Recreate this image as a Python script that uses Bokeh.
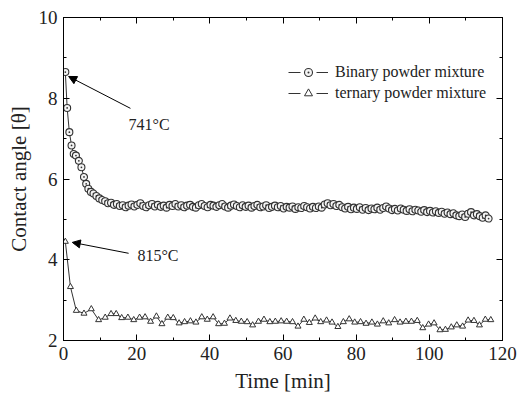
from bokeh.plotting import figure
from bokeh.models import (Range1d, SingleIntervalTicker, LinearAxis, Legend, LegendItem,
                          Arrow, NormalHead, Label, ColumnDataSource)
from bokeh.embed import file_html
from bokeh.resources import INLINE

# ---- data ----
binary_time = [
    0.5, 1.0, 1.6, 2.2, 2.8, 3.4, 4.2, 4.9, 5.6, 6.2, 6.8, 7.5, 8.2, 9.0, 9.8,
    10.6, 11.4, 12.2, 13.0, 13.8,
    14.6, 15.4, 16.2, 17.0, 17.8,
    18.6, 19.4, 20.2, 21.0, 21.8,
    22.6, 23.4, 24.2, 25.0, 25.8,
    26.6, 27.4, 28.2, 29.0, 29.8,
    30.6, 31.4, 32.2, 33.0, 33.8,
    34.6, 35.4, 36.2, 37.0, 37.8,
    38.6, 39.4, 40.2, 41.0, 41.8,
    42.6, 43.4, 44.2, 45.0, 45.8,
    46.6, 47.4, 48.2, 49.0, 49.8,
    50.6, 51.4, 52.2, 53.0, 53.8,
    54.6, 55.4, 56.2, 57.0, 57.8,
    58.6, 59.4, 60.2, 61.0, 61.8,
    62.6, 63.4, 64.2, 65.0, 65.8,
    66.6, 67.4, 68.2, 69.0, 69.8,
    70.6, 71.4, 72.2, 73.0, 73.8,
    74.6, 75.4, 76.2, 77.0, 77.8,
    78.6, 79.4, 80.2, 81.0, 81.8,
    82.6, 83.4, 84.2, 85.0, 85.8,
    86.6, 87.4, 88.2, 89.0, 89.8,
    90.6, 91.4, 92.2, 93.0, 93.8,
    94.6, 95.4, 96.2, 97.0, 97.8,
    98.6, 99.4, 100.2, 101.0, 101.8,
    102.6, 103.4, 104.2, 105.0, 105.8,
    106.6, 107.4, 108.2, 109.0, 109.8,
    110.6, 111.4, 112.2, 113.0, 113.8,
    114.6, 115.4, 116.2,
]
binary_angle = [
    8.65, 7.76, 7.16, 6.83, 6.62, 6.58, 6.45, 6.29, 6.05, 5.88, 5.76, 5.68, 5.64, 5.58, 5.52,
    5.48, 5.45, 5.40, 5.41, 5.36,
    5.38, 5.33, 5.35, 5.30, 5.34,
    5.37, 5.32, 5.36, 5.40, 5.33,
    5.30, 5.35, 5.38, 5.32, 5.36,
    5.31, 5.34, 5.29, 5.36, 5.33,
    5.38, 5.32, 5.35, 5.30, 5.34,
    5.36, 5.31, 5.29, 5.35, 5.38,
    5.33, 5.30, 5.36, 5.34, 5.31,
    5.35, 5.38, 5.32, 5.29, 5.34,
    5.37, 5.33, 5.30, 5.35, 5.31,
    5.34, 5.29, 5.33, 5.36, 5.30,
    5.32, 5.35, 5.28, 5.31, 5.34,
    5.30, 5.33, 5.27, 5.31, 5.29,
    5.32, 5.26, 5.30, 5.28, 5.33,
    5.30, 5.27, 5.31, 5.28, 5.32,
    5.29, 5.37, 5.40, 5.35, 5.38,
    5.33, 5.36, 5.30, 5.27, 5.31,
    5.25, 5.29, 5.26, 5.30, 5.24,
    5.28, 5.23, 5.27, 5.25, 5.29,
    5.24, 5.28, 5.32, 5.27, 5.23,
    5.26, 5.22, 5.27, 5.24, 5.21,
    5.25, 5.20, 5.24, 5.22, 5.19,
    5.23, 5.18, 5.21, 5.17, 5.20,
    5.16, 5.19, 5.14, 5.17, 5.13,
    5.15, 5.10, 5.08, 5.12, 5.06,
    5.14, 5.18, 5.10, 5.13, 5.08,
    5.04, 5.10, 5.02,
]

ternary_time = [
    0.5, 1.9, 3.5, 5.6, 7.6, 9.6, 11.4, 13.0, 14.4, 15.9,
    17.6, 19.2, 20.8, 22.3, 23.8, 25.4, 26.9, 28.5, 30.0, 31.6,
    33.1, 34.7, 36.2, 37.8, 39.3, 40.9, 42.4, 44.0, 45.5, 47.1,
    48.6, 50.2, 51.7, 53.3, 54.8, 56.4, 57.9, 59.5, 61.0, 62.6,
    64.1, 65.7, 67.2, 68.8, 70.3, 71.9, 73.4, 75.0, 76.5, 78.1,
    79.6, 81.2, 82.7, 84.3, 85.8, 87.4, 88.9, 90.5, 92.0, 93.6,
    95.1, 96.7, 98.2, 99.8, 101.3, 102.9, 104.4, 106.0, 107.5, 109.1,
    110.6, 112.2, 113.7, 115.3, 116.8,
]
ternary_angle = [
    4.45, 3.33, 2.74, 2.67, 2.78, 2.51, 2.57, 2.66, 2.66, 2.56,
    2.57, 2.51, 2.57, 2.58, 2.47, 2.60, 2.41, 2.57, 2.56, 2.43,
    2.46, 2.48, 2.45, 2.58, 2.52, 2.58, 2.41, 2.42, 2.55, 2.49,
    2.47, 2.46, 2.38, 2.47, 2.52, 2.46, 2.47, 2.48, 2.47, 2.46,
    2.35, 2.52, 2.44, 2.55, 2.46, 2.50, 2.45, 2.34, 2.46, 2.53,
    2.45, 2.46, 2.42, 2.45, 2.40, 2.48, 2.43, 2.51, 2.45, 2.47,
    2.47, 2.49, 2.31, 2.40, 2.43, 2.26, 2.27, 2.33, 2.38, 2.35,
    2.50, 2.49, 2.38, 2.52, 2.51,
]

x_ticks_interval = 20
y_ticks_interval = 2
legend_labels = ["Binary powder mixture", "ternary powder mixture"]
annot_texts = ["741\u00b0C", "815\u00b0C"]

FONT = "Liberation Serif"
INK = "#333333"
NAN = float("nan")

p = figure(width=517, height=397, x_range=Range1d(0, 120), y_range=Range1d(2, 10),
           output_backend="svg", toolbar_location=None,
           min_border_left=63, min_border_right=15, min_border_top=17, min_border_bottom=57)
p.grid.visible = False
p.outline_line_color = "black"
p.background_fill_color = "white"
p.border_fill_color = "white"

p.xaxis.ticker = SingleIntervalTicker(interval=x_ticks_interval, num_minor_ticks=2)
p.yaxis.ticker = SingleIntervalTicker(interval=y_ticks_interval, num_minor_ticks=2)


def style_axis(ax, labels=True):
    ax.axis_line_color = "black"
    ax.major_tick_line_color = "black"
    ax.minor_tick_line_color = "black"
    ax.major_tick_in = 6
    ax.major_tick_out = 0
    ax.minor_tick_in = 3
    ax.minor_tick_out = 0
    ax.major_label_text_font = FONT
    if labels:
        ax.major_label_text_font_size = "19px"
        ax.major_label_text_color = "#222222"
        ax.major_label_standoff = 6
    else:
        ax.major_label_text_font_size = "1px"
        ax.major_label_text_color = None
        ax.major_label_standoff = 0
    ax.axis_label_text_font = FONT
    ax.axis_label_text_font_size = "21px"
    ax.axis_label_text_font_style = "normal"
    ax.axis_label_text_color = "#222222"


for ax in p.xaxis + p.yaxis:
    style_axis(ax)
p.xaxis.axis_label = "Time [min]"
p.yaxis.axis_label = "Contact angle [\u03b8]"
p.xaxis.axis_label_standoff = 6
p.yaxis.axis_label_standoff = 5

top = LinearAxis(ticker=SingleIntervalTicker(interval=x_ticks_interval, num_minor_ticks=2))
right = LinearAxis(ticker=SingleIntervalTicker(interval=y_ticks_interval, num_minor_ticks=2))
style_axis(top, labels=False)
style_axis(right, labels=False)
p.add_layout(top, "above")
p.add_layout(right, "right")

src_b = ColumnDataSource(dict(t=binary_time, a=binary_angle))
src_t = ColumnDataSource(dict(t=ternary_time, a=ternary_angle))

p.line("t", "a", source=src_b, line_color=INK, line_width=1)
sb = p.scatter("t", "a", source=src_b, marker="circle_dot", size=7,
               line_color=INK, fill_color="#f4f4f4", line_width=1.1)
p.line("t", "a", source=src_t, line_color=INK, line_width=1)
st = p.scatter("t", "a", source=src_t, marker="triangle", size=6,
               line_color=INK, fill_color="white", line_width=1)

# legend-only dashed line pieces (nothing drawn in the plot)
lb = p.line(x=[NAN], y=[NAN], line_color=INK, line_width=1, line_dash="12 16")
lt = p.line(x=[NAN], y=[NAN], line_color=INK, line_width=1, line_dash="12 16")

legend = Legend(items=[LegendItem(label=legend_labels[0], renderers=[lb, sb]),
                       LegendItem(label=legend_labels[1], renderers=[lt, st])],
                location=(225, 237), orientation="vertical")
legend.label_text_font = FONT
legend.label_text_font_size = "16px"
legend.label_text_color = "#222222"
legend.glyph_width = 40
legend.glyph_height = 20
legend.label_height = 20
legend.label_standoff = 7
legend.spacing = 1
legend.padding = 0
legend.margin = 0
legend.border_line_color = None
legend.background_fill_alpha = 0
p.add_layout(legend, "center")

# annotations with arrows
p.add_layout(Arrow(end=NormalHead(size=8, fill_color="black", line_color="black"),
                   x_start=18.3, y_start=7.75, x_end=1.4, y_end=8.54,
                   line_color="black", line_width=1))
p.add_layout(Label(x=17.8, y=7.35, text=annot_texts[0], text_font=FONT,
                   text_font_size="16px", text_color="#222222", text_baseline="middle"))
p.add_layout(Arrow(end=NormalHead(size=8, fill_color="black", line_color="black"),
                   x_start=17.8, y_start=4.16, x_end=2.4, y_end=4.43,
                   line_color="black", line_width=1))
p.add_layout(Label(x=20.2, y=4.11, text=annot_texts[1], text_font=FONT,
                   text_font_size="16px", text_color="#222222", text_baseline="middle"))

open("out.html", "w").write(file_html(p, INLINE))
